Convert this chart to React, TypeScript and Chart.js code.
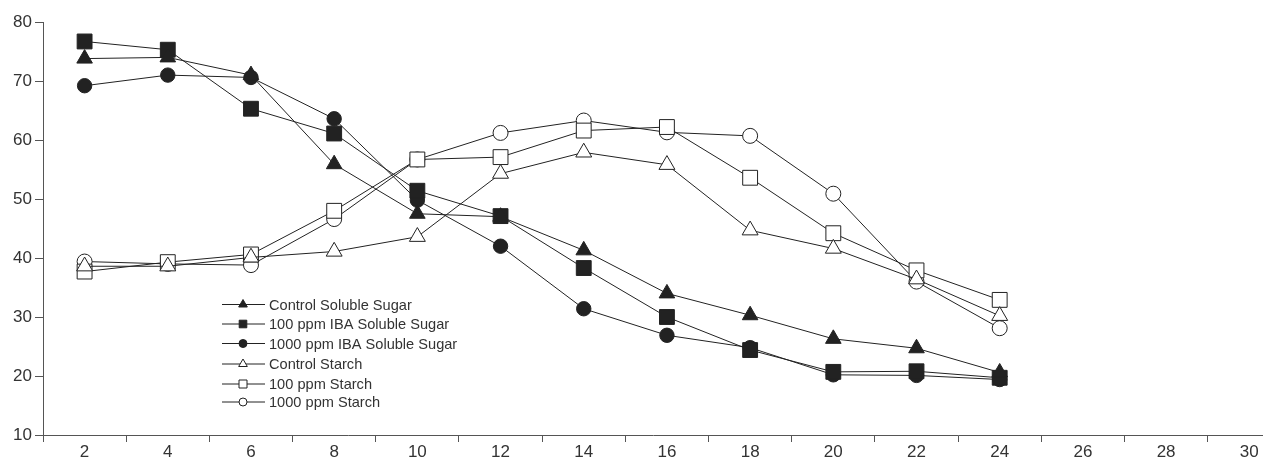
import React, { useEffect, useRef } from "react";
import { Chart, registerables } from "chart.js";

Chart.register(...registerables);

const days = [2, 4, 6, 8, 10, 12, 14, 16, 18, 20, 22, 24];
const controlSugar = [73.8, 74.0, 71.0, 55.9, 47.5, 47.0, 41.3, 34.0, 30.3, 26.3, 24.7, 20.6];
const ppm100Sugar = [76.7, 75.3, 65.3, 61.1, 51.4, 47.1, 38.3, 30.0, 24.4, 20.7, 20.8, 19.7];
const ppm1000Sugar = [69.2, 71.0, 70.6, 63.6, 49.8, 42.0, 31.4, 26.9, 24.8, 20.2, 20.1, 19.4];
const controlStarch = [38.6, 38.6, 40.1, 41.1, 43.6, 54.3, 57.9, 55.8, 44.7, 41.6, 36.4, 30.2];
const ppm100Starch = [37.7, 39.3, 40.6, 48.0, 56.7, 57.1, 61.6, 62.2, 53.6, 44.2, 37.9, 32.9];
const ppm1000Starch = [39.4, 39.0, 38.8, 46.6, 56.7, 61.2, 63.3, 61.3, 60.7, 50.9, 36.0, 28.1];
const seriesNames = [
  "Control Soluble Sugar",
  "100 ppm IBA Soluble Sugar",
  "1000 ppm IBA Soluble Sugar",
  "Control Starch",
  "100 ppm Starch",
  "1000 ppm Starch",
];
const yTicks = [10, 20, 30, 40, 50, 60, 70, 80];

const INK = "#222";
const FONT = "'Liberation Sans', Arial, sans-serif";

function pts(vals: number[]) {
  return days.map((d, i) => ({ x: d, y: vals[i] }));
}

function drawMarker(ctx: CanvasRenderingContext2D, style: string, x: number, y: number, r: number, filled: boolean) {
  ctx.save();
  ctx.beginPath();
  if (style === "triangle") {
    let rad = 0;
    ctx.moveTo(x + Math.sin(rad) * r, y - Math.cos(rad) * r);
    rad += (2 * Math.PI) / 3;
    ctx.lineTo(x + Math.sin(rad) * r, y - Math.cos(rad) * r);
    rad += (2 * Math.PI) / 3;
    ctx.lineTo(x + Math.sin(rad) * r, y - Math.cos(rad) * r);
    ctx.closePath();
  } else if (style === "rect") {
    ctx.rect(x - r, y - r, 2 * r, 2 * r);
  } else {
    ctx.arc(x, y, r, 0, Math.PI * 2);
  }
  ctx.fillStyle = filled ? INK : "#fff";
  ctx.fill();
  ctx.strokeStyle = INK;
  ctx.lineWidth = 1;
  ctx.stroke();
  ctx.restore();
}

const legendPlugin = {
  id: "customLegend",
  afterDatasetsDraw(chart: any) {
    const ctx = chart.ctx as CanvasRenderingContext2D;
    const styles = ["triangle", "rect", "circle", "triangle", "rect", "circle"];
    const filled = [true, true, true, false, false, false];
    const sizes = [5, 3.8, 4, 5, 4, 4];
    const x0 = 222;
    const x1 = 265;
    const ys = [304.5, 324, 343.5, 364, 384, 402];
    ctx.save();
    for (let i = 0; i < seriesNames.length; i++) {
      const y = ys[i];
      ctx.beginPath();
      ctx.moveTo(x0, y);
      ctx.lineTo(x1, y);
      ctx.strokeStyle = INK;
      ctx.lineWidth = 1;
      ctx.stroke();
      drawMarker(ctx, styles[i], 243, y, sizes[i], filled[i]);
      ctx.fillStyle = "#333";
      ctx.font = `14.6px ${FONT}`;
      ctx.textBaseline = "middle";
      ctx.textAlign = "left";
      ctx.fillText(seriesNames[i], 269, y + 1);
    }
    ctx.restore();
  },
};

export default function App() {
  const ref = useRef<HTMLCanvasElement | null>(null);
  useEffect(() => {
    document.body.style.margin = "0";
    const canvas = ref.current;
    if (!canvas) return;
    const mk = (i: number, vals: number[], style: string, filled: boolean, r: number) => ({
      label: seriesNames[i],
      data: pts(vals),
      borderColor: INK,
      borderWidth: 1,
      pointStyle: style,
      pointRadius: r,
      pointBackgroundColor: filled ? INK : "#fff",
      pointBorderColor: INK,
      pointBorderWidth: 1,
      fill: false,
      tension: 0,
      clip: false,
    });
    const chart = new Chart(canvas, {
      type: "line",
      data: {
        datasets: [
          mk(0, controlSugar, "triangle", true, 9),
          mk(1, ppm100Sugar, "rect", true, 10.5),
          mk(2, ppm1000Sugar, "circle", true, 7.2),
          mk(3, controlStarch, "triangle", false, 9.2),
          mk(4, ppm100Starch, "rect", false, 10.5),
          mk(5, ppm1000Starch, "circle", false, 7.5),
        ] as any,
      },
      options: {
        responsive: false,
        animation: false,
        layout: { autoPadding: false, padding: { top: 22, right: 0, left: 0, bottom: 0 } },
        plugins: { legend: { display: false }, tooltip: { enabled: false } },
        scales: {
          x: {
            type: "linear",
            min: 1,
            max: 30.33,
            border: { display: true, color: "#555", width: 1 },
            grid: {
              drawOnChartArea: false,
              drawTicks: true,
              tickLength: 7,
              tickColor: (c: any) => (c.tick && Math.round(c.tick.value) % 2 === 1 ? "#555" : "rgba(0,0,0,0)"),
            },
            ticks: {
              stepSize: 1,
              autoSkip: false,
              maxRotation: 0,
              includeBounds: false,
              color: "#333",
              font: { family: FONT, size: 17 },
              padding: 0,
              callback: (v: any) => (Number(v) % 2 === 0 ? String(v) : ""),
            },
            afterFit: (s: any) => {
              s.height = 28;
              s.paddingLeft = 0;
              s.paddingRight = 0;
            },
          },
          y: {
            min: 10,
            max: 80,
            border: { display: true, color: "#555", width: 1 },
            grid: { drawOnChartArea: false, drawTicks: true, tickLength: 8, tickColor: "#555" },
            ticks: {
              stepSize: 10,
              color: "#333",
              font: { family: FONT, size: 17 },
              padding: 3,
              callback: (v: any) => (yTicks.includes(Number(v)) ? String(v) : ""),
            },
            afterFit: (s: any) => {
              s.width = 43;
              s.paddingTop = 0;
              s.paddingBottom = 0;
            },
          },
        },
      },
      plugins: [legendPlugin],
    } as any);
    return () => chart.destroy();
  }, []);
  return (
    <div style={{ width: 1263, height: 463 }}>
      <canvas ref={ref} width={1263} height={463} />
    </div>
  );
}
